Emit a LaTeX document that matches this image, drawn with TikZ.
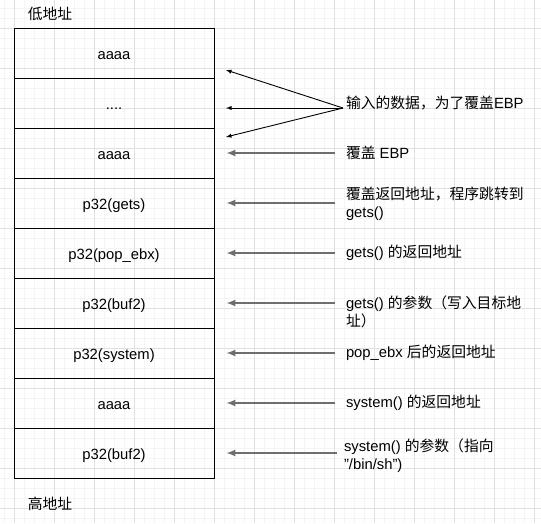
\documentclass[tikz,border=0pt]{standalone}
\usepackage{fontspec}
\setmainfont{Liberation Sans}
\newfontfamily\cjk{Noto Sans CJK SC}
\usetikzlibrary{positioning}
\definecolor{gridmajor}{HTML}{E0E0E0}
\definecolor{gridminor}{HTML}{F4F4F4}
\definecolor{ptrgray}{HTML}{6E6E6E}
\newcommand\fourdots{....}
\tikzset{
  stackcell/.style={draw=black,line width=1pt,minimum width=200pt,minimum height=50pt,inner sep=0pt,
    text height=13pt,text depth=1pt},
  stacknote/.style={anchor=west,align=left,inner sep=0pt,outer xsep=11pt},
  stackptr/.style={-latex,line width=2pt,draw=ptrgray,shorten >=12pt},
  stackfan/.style={-latex,line width=0.9pt},
  every picture/.style={font=\fontsize{14.8}{18}\selectfont}
}
\begin{document}
\begin{tikzpicture}[x=1pt,y=-1pt]
  \useasboundingbox (0,0) rectangle (541,523);
  \fill[white] (0,0) rectangle (541,523);
  \foreach \g in {4,14,...,534} \draw[gridminor,line width=1pt] (\g,0) -- (\g,523);
  \foreach \g in {8,18,...,518} \draw[gridminor,line width=1pt] (0,\g) -- (541,\g);
  \foreach \g in {14,54,...,534} \draw[gridmajor,line width=1pt] (\g,0) -- (\g,523);
  \foreach \g in {28,68,...,508} \draw[gridmajor,line width=1pt] (0,\g) -- (541,\g);
  \foreach \txt [count=\i] in {aaaa,\fourdots,aaaa,p32(gets),p32(pop\_ebx),p32(buf2),p32(system),aaaa,p32(buf2)}
    \node[stackcell] (r\i) at (114,{3+50*\i}) {\txt};
  \node (low) at (50,14) {\cjk 低地址};
  \node (high) at (50,504) {\cjk 高地址};
  \node[stacknote,outer xsep=0pt] (n1) at (346,103) {\cjk 输入的数据，为了覆盖{\rmfamily EBP}};
  \node[stacknote] (n3) at (335,153) {{\cjk 覆盖} EBP};
  \node[stacknote] (n4) at (335,204) {{\cjk 覆盖返回地址，程序跳转到}\\gets()};
  \node[stacknote] (n5) at (335,253) {gets() {\cjk 的返回地址}};
  \node[stacknote] (n6) at (335,312) {gets() {\cjk 的参数（写入目标地}\\{\cjk 址）}};
  \node[stacknote] (n7) at (335,353) {pop\_ebx {\cjk 后的返回地址}};
  \node[stacknote] (n8) at (335,403) {system() {\cjk 的返回地址}};
  \node[stacknote,outer xsep=9pt] (n9) at (335,456) {system() {\cjk 的参数（指向}\\"/bin/sh")};
  \coordinate (fan) at (343,108);
  \coordinate (tipa) at (226,70);
  \coordinate (tipb) at (226,108);
  \coordinate (tipc) at (226,137);
  \draw[stackfan] (fan) -- (tipa);
  \draw[stackfan] (fan) -- (tipb);
  \draw[stackfan] (fan) -- (tipc);
  \foreach \i in {3,4,5,6,7,8} \draw[stackptr] (n\i.west |- r\i.east) -- (r\i.east);
  \draw[stackptr] ([xshift=2pt]n9.west |- r9.east) -- (r9.east);
\end{tikzpicture}
\end{document}
